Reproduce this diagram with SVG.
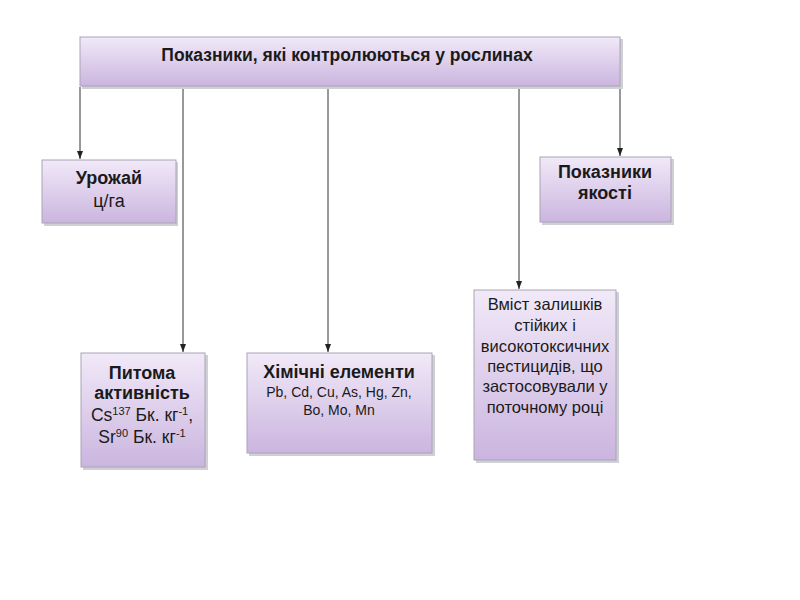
<svg xmlns="http://www.w3.org/2000/svg" width="800" height="600" viewBox="0 0 800 600">
<style>
.box{fill:url(#g);stroke:#a8a4b4;stroke-width:1}
.sh{fill:#cfcfd6}
.t{font-family:"Liberation Sans",Arial,sans-serif;fill:#1a1a1a;text-anchor:middle}
.b{font-weight:bold}
.ln{stroke:#333;stroke-width:1;fill:none}
</style>
<defs>
<linearGradient id="g" x1="0" y1="0" x2="0" y2="1">
<stop offset="0" stop-color="#f1e9f8"/>
<stop offset="1" stop-color="#cbb5df"/>
</linearGradient>
<marker id="ah" viewBox="0 0 8 8" markerWidth="8" markerHeight="8" refX="8" refY="4" orient="auto" markerUnits="userSpaceOnUse">
<path d="M0,1 L8,4 L0,7 Z" fill="#222"/>
</marker>
</defs>
<rect width="800" height="600" fill="#fff"/>
<g id="connectors">
<path class="ln" d="M80,87 V159" marker-end="url(#ah)"/>
<path class="ln" d="M183,87 V352" marker-end="url(#ah)"/>
<path class="ln" d="M328,87 V352" marker-end="url(#ah)"/>
<path class="ln" d="M519,87 V289" marker-end="url(#ah)"/>
<path class="ln" d="M620,87 V156" marker-end="url(#ah)"/>
</g>
<g id="top">
<rect class="sh" x="82" y="39" width="541" height="50"/>
<rect class="box" x="80" y="37" width="540" height="49"/>
<text class="t b" x="347" y="61" font-size="17.5">Показники, які контролюються у рослинах</text>
</g>
<g id="urozhai">
<rect class="sh" x="44" y="162" width="134" height="64"/>
<rect class="box" x="42" y="160" width="134" height="63"/>
<text class="t b" x="109" y="184" font-size="18">Урожай</text>
<text class="t" x="109" y="207" font-size="18">ц/га</text>
</g>
<g id="yakist">
<rect class="sh" x="542" y="159" width="132" height="66"/>
<rect class="box" x="540" y="157" width="131" height="65"/>
<text class="t b" x="605" y="178" font-size="18">Показники</text>
<text class="t b" x="605" y="199" font-size="18">якості</text>
</g>
<g id="pytoma">
<rect class="sh" x="83" y="355" width="125" height="115"/>
<rect class="box" x="81" y="353" width="124" height="114"/>
<text class="t b" x="142" y="379" font-size="18">Питома</text>
<text class="t b" x="142" y="399" font-size="18">активність</text>
<text class="t" x="142" y="421" font-size="17.5">Cs<tspan font-size="11" dy="-6">137</tspan><tspan dy="6"> Бк. кг</tspan><tspan font-size="11" dy="-6">-1</tspan><tspan dy="6">,</tspan></text>
<text class="t" x="142" y="443" font-size="17.5">Sr<tspan font-size="11" dy="-6">90</tspan><tspan dy="6"> Бк. кг</tspan><tspan font-size="11" dy="-6">-1</tspan></text>
</g>
<g id="khimichni">
<rect class="sh" x="249" y="355" width="186" height="101"/>
<rect class="box" x="247" y="353" width="185" height="100"/>
<text class="t b" x="339" y="378" font-size="18">Хімічні елементи</text>
<text class="t" x="339" y="397" font-size="14">Pb, Cd, Cu, As, Hg, Zn,</text>
<text class="t" x="339" y="415" font-size="14">Bo, Mo, Mn</text>
</g>
<g id="vmist">
<rect class="sh" x="476" y="292" width="143" height="171"/>
<rect class="box" x="474" y="290" width="142" height="170"/>
<text class="t" x="545" y="310" font-size="16.5">Вміст залишків</text>
<text class="t" x="545" y="331" font-size="16.5">стійких і</text>
<text class="t" x="545" y="352" font-size="16.5">високотоксичних</text>
<text class="t" x="545" y="372" font-size="16.5">пестицидів, що</text>
<text class="t" x="545" y="392" font-size="16.5">застосовували у</text>
<text class="t" x="545" y="413" font-size="16.5">поточному році</text>
</g>
</svg>
